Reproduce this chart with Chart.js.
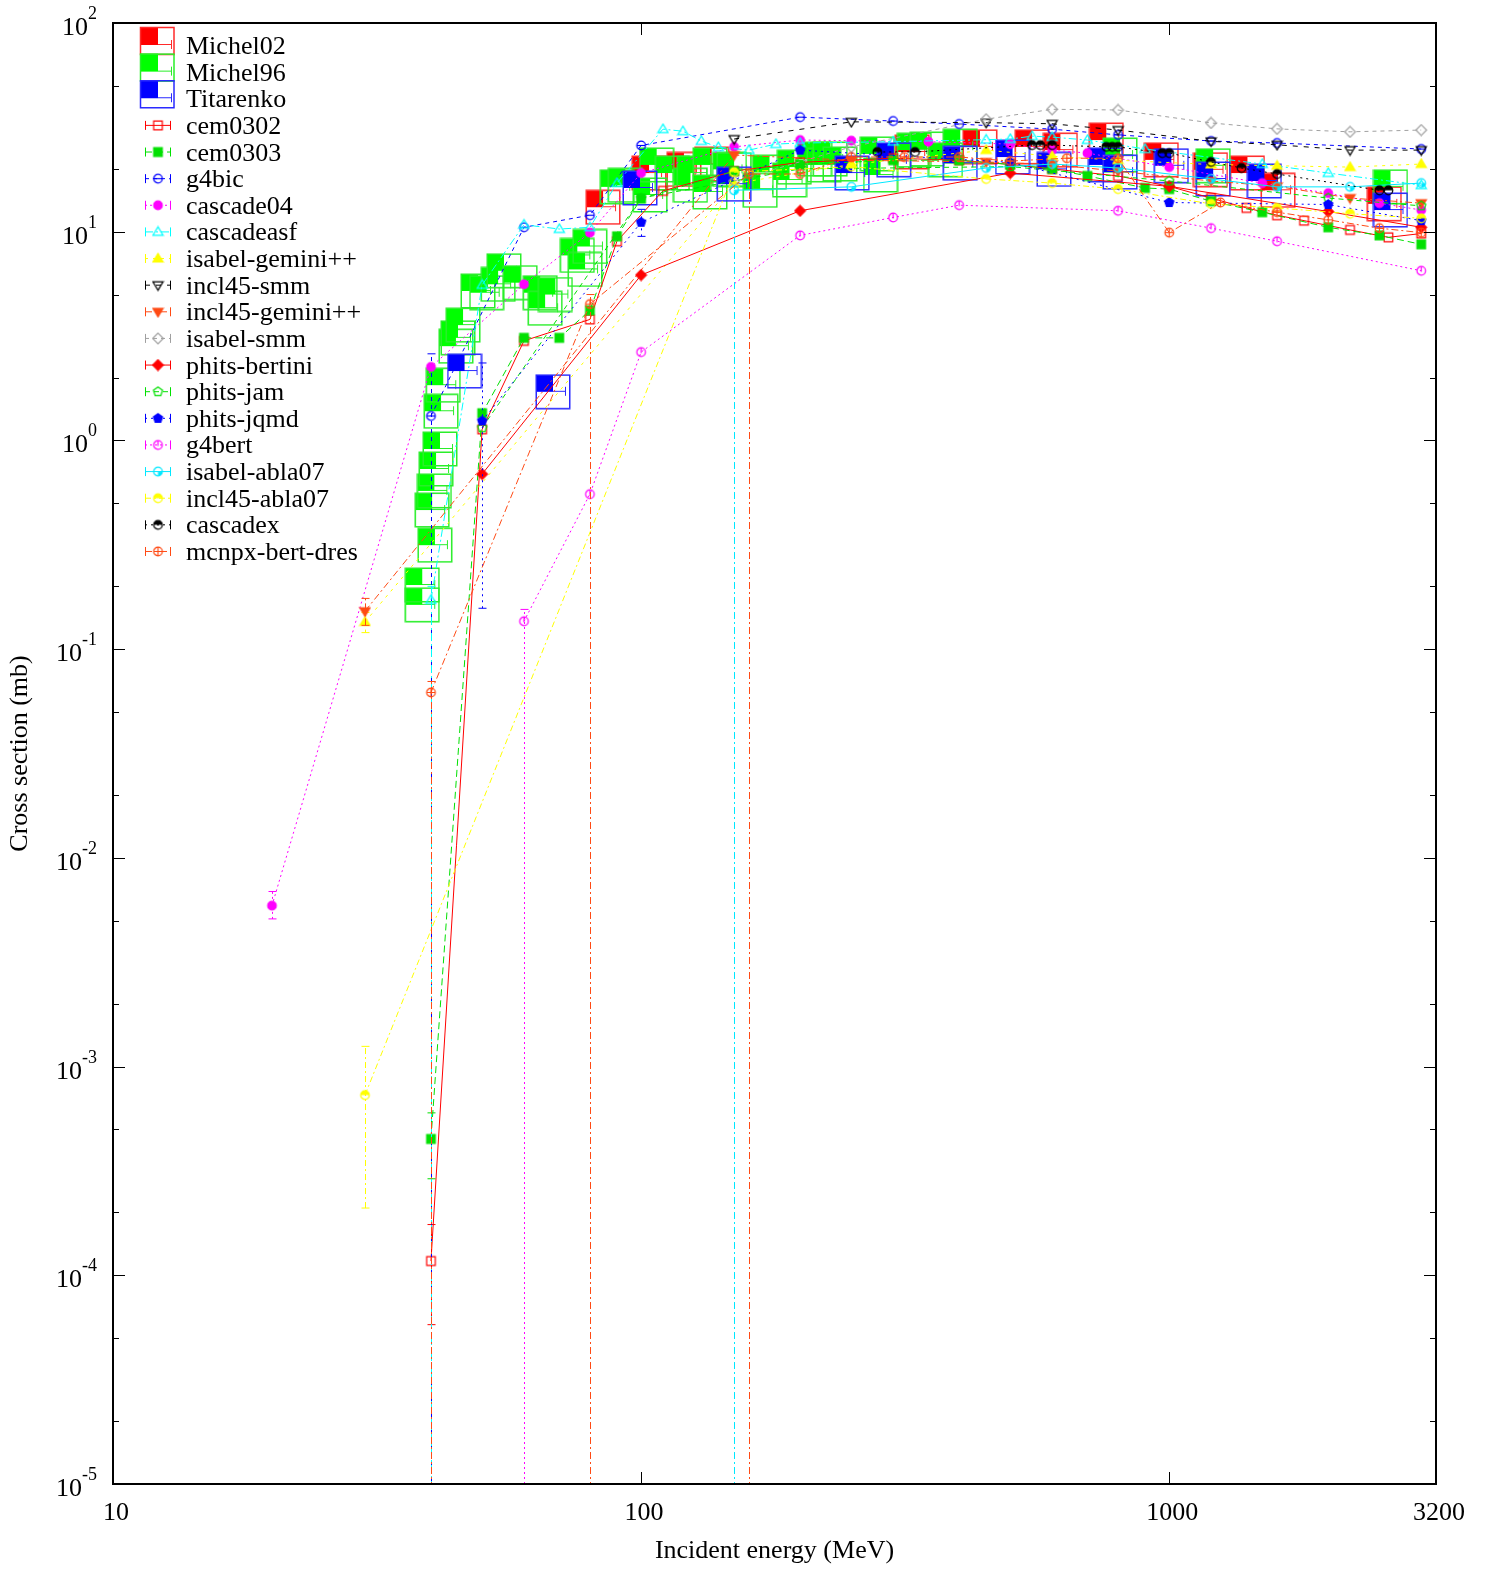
<!DOCTYPE html>
<html><head><meta charset="utf-8">
<script src="https://cdn.jsdelivr.net/npm/chart.js@4.4.1/dist/chart.umd.min.js"></script>
<style>html,body{margin:0;padding:0;background:#fff;overflow:hidden}canvas{display:block}</style>
</head><body>
<canvas id="c" width="1491" height="1570"></canvas>
<script>
// ---------------- data ----------------
const xTicks = [10, 100, 1000, 3200];
const xTickLabels = ['10', '100', '1000', '3200'];
const yTicks = [1e-5, 1e-4, 1e-3, 1e-2, 1e-1, 1, 10, 100];
const yTickExp = ['-5', '-4', '-3', '-2', '-1', '0', '1', '2'];
const yMinor = [2, 5];
const xTitle = 'Incident energy (MeV)';
const yTitle = 'Cross section (mb)';

const michel02E = [84.7, 103.5, 120.5, 136, 326, 438, 550, 622, 760, 966, 1197, 1406, 1607, 2554];
const michel02V = [13.1, 19.1, 19.9, 21.1, 24.1, 25.5, 25.5, 24.6, 27.5, 22.1, 19.8, 19.1, 15.8, 13.6];

const michel96E = [38.5, 38.5, 40.7, 40.2, 40.6, 40.9, 41.6, 41.8, 42.2, 44.6, 45.0, 46.0, 49.1, 51.0, 53.6, 55.0,
  59.0, 64.4, 65.8, 68.8, 75.7, 78.3, 80.0, 90.1, 93.3, 104, 107, 114.6, 124, 126, 135, 135, 147, 150, 168, 175,
  191, 195, 213, 222, 228, 238, 280, 284, 329, 348, 377, 402, 807, 1211, 2624];
const michel96V = [0.163, 0.203, 0.315, 0.464, 0.573, 0.73, 0.91, 1.38, 1.84, 2.83, 3.1, 3.57, 5.2, 5.1, 5.6, 6.5,
  5.7, 5.1, 4.3, 5.0, 7.7, 6.6, 8.5, 16.4, 16.7, 15.0, 20.9, 19.1, 16.7, 19.1, 20.9, 15.5, 19.9, 19.8, 15.8, 19.3,
  17.7, 20.4, 22.3, 20.9, 22.3, 21.1, 23.6, 18.7, 24.6, 24.9, 22.1, 25.7, 23.3, 20.7, 16.4];

const titarenkoE = [46.3, 68.1, 99.5, 150, 251, 301, 402, 505, 605, 757, 807, 1009, 1211, 1514, 2624];
const titarenkoV = [2.15, 1.71, 16.2, 16.9, 19.1, 22.1, 21.3, 22.8, 19.9, 20.9, 19.3, 20.7, 17.9, 17.5, 12.7];

const cem0302E = [40, 50, 60, 80, 90, 110, 150, 200, 300, 400, 500, 600, 800, 1000, 1200, 1400, 1600, 1800, 2200, 2600, 3000];
const cem0302V = [1.17e-4, 1.13, 3.0, 3.8, 9.0, 15.7, 19.5, 21.5, 22.5, 22, 21, 20, 18.5, 16.5, 14.5, 13.0, 12.0, 11.3, 10.2, 9.4, 9.8];
const cem0302Err = [[40, 5.8e-5, 1.75e-4]];

const cem0303E = [40, 50, 60, 70, 80, 90, 100, 150, 200, 300, 400, 500, 600, 700, 900, 1000, 1200, 1500, 2000, 2500, 3000];
const cem0303V = [4.5e-4, 1.35, 3.1, 3.1, 4.2, 9.5, 14.4, 19.5, 21, 22, 22, 21, 20, 18.5, 16.2, 16.0, 14, 12.4, 10.5, 9.6, 8.7];
const cem0303Err = [[40, 2.9e-4, 6.0e-4]];

const g4bicE = [40, 60, 80, 100, 200, 300, 400, 600, 800, 1200, 1600, 3000];
const g4bicV = [1.31, 10.5, 12.0, 25.9, 35.4, 33.9, 32.8, 31.0, 29.1, 27.2, 26.6, 24.9];
const g4bicErr = [[40, 0, 2.6]];

const cascade04E = [20, 40, 60, 80, 100, 150, 200, 250, 350, 500, 600, 700, 1000, 1500, 2000, 2500, 3000];
const cascade04V = [0.0059, 2.25, 5.6, 9.9, 19.1, 25.5, 27.5, 27.3, 27.0, 26.3, 24.6, 23.8, 20.4, 17.1, 15.3, 13.7, 12.7];
const cascade04Err = [[20, 0.0051, 0.0069]];

const cascadeasfE = [40, 50, 60, 70, 80, 90, 110, 120, 130, 140, 160, 180, 200, 300, 450, 500, 550, 600, 700, 900, 1500, 2000, 3000];
const cascadeasfV = [0.172, 5.56, 10.8, 10.3, 10.5, 17.1, 31.0, 30.3, 27.2, 25.4, 24.6, 26.3, 26.6, 27.0, 27.6, 27.8, 28.7, 28.4, 27.5, 24.9, 21.1, 19.1, 16.7];
const cascadeasfErr = [[40, 0, 0.2]];

const isabelGeminiE = [30, 150, 250, 450, 600, 800, 1200, 1600, 2200, 3000];
const isabelGeminiV = [0.135, 17.0, 21.0, 24.6, 23.0, 22.0, 21.0, 20.7, 20.4, 21.1];
const isabelGeminiErr = [[30, 0.12, 0.15]];

const incl45SmmE = [150, 250, 450, 600, 800, 1200, 1600, 2200, 3000];
const incl45SmmV = [27.8, 33.6, 33.3, 32.9, 30.7, 27.1, 26.1, 24.6, 24.6];

const incl45GeminiE = [30, 150, 250, 450, 600, 800, 1200, 1600, 2200, 3000];
const incl45GeminiV = [0.152, 23.3, 22.0, 21.6, 21.0, 19.5, 17.5, 16.5, 14.5, 13.7];
const incl45GeminiErr = [[30, 0.13, 0.175]];

const isabelSmmE = [150, 250, 450, 600, 800, 1200, 1600, 2200, 3000];
const isabelSmmV = [17.5, 25.5, 34.6, 38.6, 38.3, 33.2, 31.1, 30.1, 30.7];

const phitsBertiniE = [50, 100, 200, 500, 1000, 2000, 3000];
const phitsBertiniV = [0.69, 6.2, 12.6, 19.1, 16.5, 12.5, 10.5];

const phitsJamE = [50, 100, 200, 500, 1000, 2000, 3000];
const phitsJamV = [1.15, 14.5, 20.0, 20.5, 17.5, 14.5, 13.3];

const phitsJqmdE = [50, 100, 200, 500, 1000, 2000, 3000];
const phitsJqmdV = [1.24, 11.1, 24.6, 21.5, 13.8, 13.5, 11.3];
const phitsJqmdErr = [[50, 0.157, 2.35], [100, 9.5, 12.8]];

const g4bertE = [60, 80, 100, 200, 300, 400, 800, 1200, 1600, 3000];
const g4bertV = [0.136, 0.553, 2.65, 9.6, 11.7, 13.4, 12.6, 10.4, 9.0, 6.5];
const g4bertErr = [[60, 0, 0.155]];

const isabelAblaE = [150, 250, 450, 600, 800, 1200, 1600, 2200, 3000];
const isabelAblaV = [15.8, 16.4, 20.2, 21.1, 20.2, 17.9, 16.4, 16.4, 17.1];
const isabelAblaErr = [[150, 0, 16.5]];

const incl45AblaE = [30, 150, 250, 450, 600, 800, 1200, 1600, 2200, 3000];
const incl45AblaV = [7.3e-4, 19.3, 20.5, 17.9, 17.1, 16.0, 13.6, 13.0, 12.2, 11.6];
const incl45AblaErr = [[30, 2.1e-4, 1.25e-3]];

const cascadexE = [280, 330, 550, 570, 600, 760, 780, 800, 970, 1000, 1200, 1370, 1600, 2500, 2600];
const cascadexV = [24.1, 24.1, 26.0, 26.0, 26.0, 25.5, 25.5, 25.5, 23.8, 23.8, 21.6, 20.2, 18.9, 15.8, 15.8];

const mcnpxE = [40, 80, 160, 200, 250, 315, 400, 500, 640, 800, 1000, 1250, 1600, 2000, 2500, 3000];
const mcnpxV = [0.062, 4.5, 18.9, 18.9, 22.8, 22.8, 22.8, 21.8, 22.5, 22.5, 9.9, 13.8, 12.4, 11.4, 10.4, 9.9];
const mcnpxErr = [[40, 0, 0.07], [80, 0, 5.0], [160, 0, 20]];

// ---------------- styles ----------------
const FONT = "'Liberation Serif', 'Times New Roman', serif";

const exps = [
  {label: 'Michel02', E: michel02E, V: michel02V, fill: '#ff0000', stroke: '#ff2a2a'},
  {label: 'Michel96', E: michel96E, V: michel96V, fill: '#00ff00', stroke: '#2aee2a'},
  {label: 'Titarenko', E: titarenkoE, V: titarenkoV, fill: '#0000ff', stroke: '#2a2aff'}
];
const models = [
  {label: 'cem0302', E: cem0302E, V: cem0302V, err: cem0302Err, color: '#ff0000', dash: [], shape: 'square', filled: false},
  {label: 'cem0303', E: cem0303E, V: cem0303V, err: cem0303Err, color: '#00e000', dash: [7, 4], shape: 'square', filled: true},
  {label: 'g4bic', E: g4bicE, V: g4bicV, err: g4bicErr, color: '#0000ff', dash: [4, 4], shape: 'circleBar', filled: false},
  {label: 'cascade04', E: cascade04E, V: cascade04V, err: cascade04Err, color: '#ff00ff', dash: [2, 3], shape: 'circle', filled: true},
  {label: 'cascadeasf', E: cascadeasfE, V: cascadeasfV, err: cascadeasfErr, color: '#00ffff', dash: [8, 3, 2, 3], shape: 'triUp', filled: false},
  {label: 'isabel-gemini++', E: isabelGeminiE, V: isabelGeminiV, err: isabelGeminiErr, color: '#ffff00', dash: [3, 5], shape: 'triUp', filled: true},
  {label: 'incl45-smm', E: incl45SmmE, V: incl45SmmV, err: [], color: '#000000', dash: [5, 6], shape: 'triDown', filled: false},
  {label: 'incl45-gemini++', E: incl45GeminiE, V: incl45GeminiV, err: incl45GeminiErr, color: '#ff4a14', dash: [7, 3, 2, 3], shape: 'triDown', filled: true},
  {label: 'isabel-smm', E: isabelSmmE, V: isabelSmmV, err: [], color: '#a0a0a0', dash: [4, 4], shape: 'diamond', filled: false},
  {label: 'phits-bertini', E: phitsBertiniE, V: phitsBertiniV, err: [], color: '#ff0000', dash: [], shape: 'diamond', filled: true},
  {label: 'phits-jam', E: phitsJamE, V: phitsJamV, err: [], color: '#00e000', dash: [5, 4], shape: 'pentagon', filled: false},
  {label: 'phits-jqmd', E: phitsJqmdE, V: phitsJqmdV, err: phitsJqmdErr, color: '#0000ff', dash: [2, 4], shape: 'pentagon', filled: true},
  {label: 'g4bert', E: g4bertE, V: g4bertV, err: g4bertErr, color: '#ff00ff', dash: [2, 3], shape: 'circleTick', filled: false},
  {label: 'isabel-abla07', E: isabelAblaE, V: isabelAblaV, err: isabelAblaErr, color: '#00e8ff', dash: [], errDash: [7, 3, 2, 3], shape: 'circleQuarter', filled: false},
  {label: 'incl45-abla07', E: incl45AblaE, V: incl45AblaV, err: incl45AblaErr, color: '#ffff00', dash: [6, 3, 2, 3], shape: 'circleHalf', filled: false},
  {label: 'cascadex', E: cascadexE, V: cascadexV, err: [], color: '#000000', dash: [2, 4], shape: 'circleHalf', filled: false},
  {label: 'mcnpx-bert-dres', E: mcnpxE, V: mcnpxV, err: mcnpxErr, color: '#ff4a14', dash: [7, 3, 2, 3], shape: 'circleCross', filled: false}
];

// ---------------- marker images ----------------
function makeMarker(shape, color, filled) {
  const S = 13, c = document.createElement('canvas');
  c.width = S; c.height = S;
  const g = c.getContext('2d'), m = S / 2, r = 4.3;
  g.strokeStyle = color; g.fillStyle = color; g.lineWidth = 1.2;
  g.beginPath();
  if (shape === 'square') g.rect(m - r, m - r, 2 * r, 2 * r);
  else if (shape.indexOf('circle') === 0) g.arc(m, m, r, 0, Math.PI * 2);
  else if (shape === 'triUp') { g.moveTo(m, m - r - 0.8); g.lineTo(m + r + 0.8, m + r * 0.8); g.lineTo(m - r - 0.8, m + r * 0.8); g.closePath(); }
  else if (shape === 'triDown') { g.moveTo(m, m + r + 0.8); g.lineTo(m + r + 0.8, m - r * 0.8); g.lineTo(m - r - 0.8, m - r * 0.8); g.closePath(); }
  else if (shape === 'diamond') { g.moveTo(m, m - r - 1); g.lineTo(m + r + 1, m); g.lineTo(m, m + r + 1); g.lineTo(m - r - 1, m); g.closePath(); }
  else if (shape === 'pentagon') {
    for (let k = 0; k < 5; k++) {
      const a = -Math.PI / 2 + k * 2 * Math.PI / 5;
      const px = m + (r + 0.5) * Math.cos(a), py = m + (r + 0.5) * Math.sin(a);
      if (k === 0) g.moveTo(px, py); else g.lineTo(px, py);
    }
    g.closePath();
  }
  if (filled) g.fill();
  g.stroke();
  g.beginPath();
  if (shape === 'circleBar') { g.moveTo(m - r, m); g.lineTo(m + r, m); g.stroke(); }
  if (shape === 'circleTick') { g.moveTo(m, m - r); g.lineTo(m, m + 1); g.stroke(); }
  if (shape === 'circleCross') { g.moveTo(m - r, m); g.lineTo(m + r, m); g.moveTo(m, m - r); g.lineTo(m, m + r); g.stroke(); }
  if (shape === 'circleQuarter') { g.moveTo(m, m); g.arc(m, m, r, 0, Math.PI / 2); g.closePath(); g.fill(); }
  if (shape === 'circleHalf') { g.moveTo(m, m); g.arc(m, m, r, Math.PI, Math.PI * 2); g.closePath(); g.fill(); }
  return c;
}
function makeBox(fill, stroke) {
  const S = 36, c = document.createElement('canvas');
  c.width = S; c.height = S;
  const g = c.getContext('2d');
  g.fillStyle = fill; g.fillRect(1, 1, 17, 17);
  g.strokeStyle = stroke; g.lineWidth = 1.5; g.strokeRect(1.25, 1.25, 33.5, 33.5);
  g.lineWidth = 1; g.beginPath(); g.moveTo(18, 17.5); g.lineTo(30, 17.5); g.moveTo(30.5, 13); g.lineTo(30.5, 22); g.stroke();
  return c;
}

function pts(E, V) { return E.map((e, i) => ({x: e, y: V[i]})); }

const datasets = [];
exps.forEach((s, i) => {
  datasets.push({
    label: s.label, data: pts(s.E, s.V), showLine: false,
    pointStyle: makeBox(s.fill, s.stroke), pointRadius: 17, pointHoverRadius: 17,
    borderColor: s.fill, backgroundColor: s.fill, order: 1000 - i,
    kind: 'exp', fillC: s.fill, strokeC: s.stroke, errors: []
  });
});
models.forEach((m, i) => {
  const mk = makeMarker(m.shape, m.color, m.filled);
  datasets.push({
    label: m.label, data: pts(m.E, m.V), showLine: true, tension: 0,
    borderColor: m.color, backgroundColor: m.color, borderWidth: 1, borderDash: m.dash,
    pointStyle: mk, pointRadius: 5, pointHoverRadius: 5, order: 100 - i,
    kind: 'model', marker: mk, errors: m.err || [], errDash: m.errDash || m.dash
  });
});

// ---------------- plugins ----------------
const errPlugin = {
  id: 'errbars',
  afterDatasetDraw(chart, args) {
    const ds = chart.data.datasets[args.index];
    if (!ds.errors || !ds.errors.length) return;
    const {ctx, chartArea: a} = chart;
    const x = chart.scales.x, y = chart.scales.y;
    ctx.save();
    ctx.beginPath(); ctx.rect(a.left, a.top, a.right - a.left, a.bottom - a.top); ctx.clip();
    ctx.strokeStyle = ds.borderColor; ctx.lineWidth = 1;
    for (const [e, lo, hi] of ds.errors) {
      const px = Math.round(x.getPixelForValue(e)) + 0.5;
      const pl = lo > 0 ? y.getPixelForValue(lo) : a.bottom + 5;
      const ph = y.getPixelForValue(hi);
      ctx.setLineDash(ds.errDash || []);
      ctx.beginPath(); ctx.moveTo(px, pl); ctx.lineTo(px, ph); ctx.stroke();
      ctx.setLineDash([]);
      ctx.beginPath(); ctx.moveTo(px - 4, ph); ctx.lineTo(px + 4, ph);
      if (lo > 0) { ctx.moveTo(px - 4, pl); ctx.lineTo(px + 4, pl); }
      ctx.stroke();
    }
    ctx.restore();
  }
};

const framePlugin = {
  id: 'frame',
  afterDraw(chart) {
    const {ctx, chartArea: a} = chart;
    const x = chart.scales.x, y = chart.scales.y;
    ctx.save();
    // ticks
    ctx.strokeStyle = '#000'; ctx.lineWidth = 1; ctx.setLineDash([]);
    ctx.beginPath();
    yTicks.forEach((v, i) => {
      const py = Math.round(y.getPixelForValue(v)) + 0.5;
      ctx.moveTo(a.left, py); ctx.lineTo(a.left + 12, py);
      ctx.moveTo(a.right, py); ctx.lineTo(a.right - 12, py);
      if (i < yTicks.length - 1) {
        yMinor.forEach(mv => {
          const pm = Math.round(y.getPixelForValue(v * mv)) + 0.5;
          ctx.moveTo(a.left, pm); ctx.lineTo(a.left + 6, pm);
          ctx.moveTo(a.right, pm); ctx.lineTo(a.right - 6, pm);
        });
      }
    });
    xTicks.forEach(v => {
      const px = Math.round(x.getPixelForValue(v)) + 0.5;
      ctx.moveTo(px, a.bottom); ctx.lineTo(px, a.bottom - 12);
      ctx.moveTo(px, a.top); ctx.lineTo(px, a.top + 12);
    });
    ctx.stroke();
    ctx.lineWidth = 2;
    ctx.strokeRect(a.left, a.top, a.right - a.left, a.bottom - a.top);

    // y tick labels with superscripts
    ctx.fillStyle = '#000';
    ctx.textBaseline = 'alphabetic';
    yTicks.forEach((v, i) => {
      const py = y.getPixelForValue(v);
      ctx.font = '18px ' + FONT;
      const ew = ctx.measureText(yTickExp[i]).width;
      ctx.font = '26px ' + FONT;
      const bw = ctx.measureText('10').width;
      const right = a.left - 16;
      ctx.textAlign = 'left';
      ctx.fillText('10', right - ew - bw, py + 12);
      ctx.font = '18px ' + FONT;
      ctx.fillText(yTickExp[i], right - ew, py - 4);
    });
    // x tick labels
    ctx.font = '26px ' + FONT;
    ctx.textAlign = 'center';
    xTicks.forEach((v, i) => {
      const px = x.getPixelForValue(v);
      ctx.fillText(xTickLabels[i], px + 3, a.bottom + 36);
    });
    // axis titles
    ctx.textBaseline = 'middle';
    ctx.fillText(xTitle, (a.left + a.right) / 2, a.bottom + 67);
    ctx.save();
    ctx.translate(20, (a.top + a.bottom) / 2);
    ctx.rotate(-Math.PI / 2);
    ctx.fillText(yTitle, 0, 0);
    ctx.restore();

    // legend (key)
    const top = 45, step = 26.63;
    chart.data.datasets.forEach((ds, i) => {
      const yc = top + step * i;
      if (ds.kind === 'exp') {
        ctx.fillStyle = ds.fillC;
        ctx.fillRect(140, yc - 18, 18, 18);
        ctx.strokeStyle = ds.strokeC; ctx.lineWidth = 1.5;
        ctx.strokeRect(140.5, yc - 17.5, 33.5, 27);
        ctx.lineWidth = 1;
        ctx.beginPath(); ctx.moveTo(158, yc - 0.5); ctx.lineTo(171, yc - 0.5);
        ctx.moveTo(171.5, yc - 5); ctx.lineTo(171.5, yc + 4); ctx.stroke();
      } else {
        ctx.strokeStyle = ds.borderColor; ctx.lineWidth = 1;
        ctx.setLineDash(ds.borderDash || []);
        ctx.beginPath(); ctx.moveTo(145, yc + 0.5); ctx.lineTo(170, yc + 0.5); ctx.stroke();
        ctx.setLineDash([]);
        ctx.beginPath(); ctx.moveTo(145.5, yc - 4); ctx.lineTo(145.5, yc + 5);
        ctx.moveTo(170.5, yc - 4); ctx.lineTo(170.5, yc + 5); ctx.stroke();
        const mk = ds.marker;
        ctx.drawImage(mk, 158 - mk.width / 2, yc + 0.5 - mk.height / 2);
      }
      ctx.fillStyle = '#000';
      ctx.font = '26px ' + FONT;
      ctx.textAlign = 'left';
      ctx.textBaseline = 'alphabetic';
      ctx.fillText(ds.label, 186, yc + 9);
    });
    ctx.restore();
  }
};

new Chart(document.getElementById('c'), {
  type: 'line',
  data: {datasets},
  options: {
    responsive: false, animation: false, devicePixelRatio: 1, events: [],
    layout: {padding: {top: 23, right: 55, left: 0, bottom: 0}},
    plugins: {legend: {display: false}, tooltip: {enabled: false}, title: {display: false}},
    scales: {
      x: {type: 'logarithmic', min: 10, max: 3200, grid: {display: false}, border: {display: false},
          ticks: {display: false}, afterFit: s => { s.height = 86; }},
      y: {type: 'logarithmic', min: 1e-5, max: 100, grid: {display: false}, border: {display: false},
          ticks: {display: false}, afterFit: s => { s.width = 113; }}
    }
  },
  plugins: [errPlugin, framePlugin]
});
</script>
</body></html>
